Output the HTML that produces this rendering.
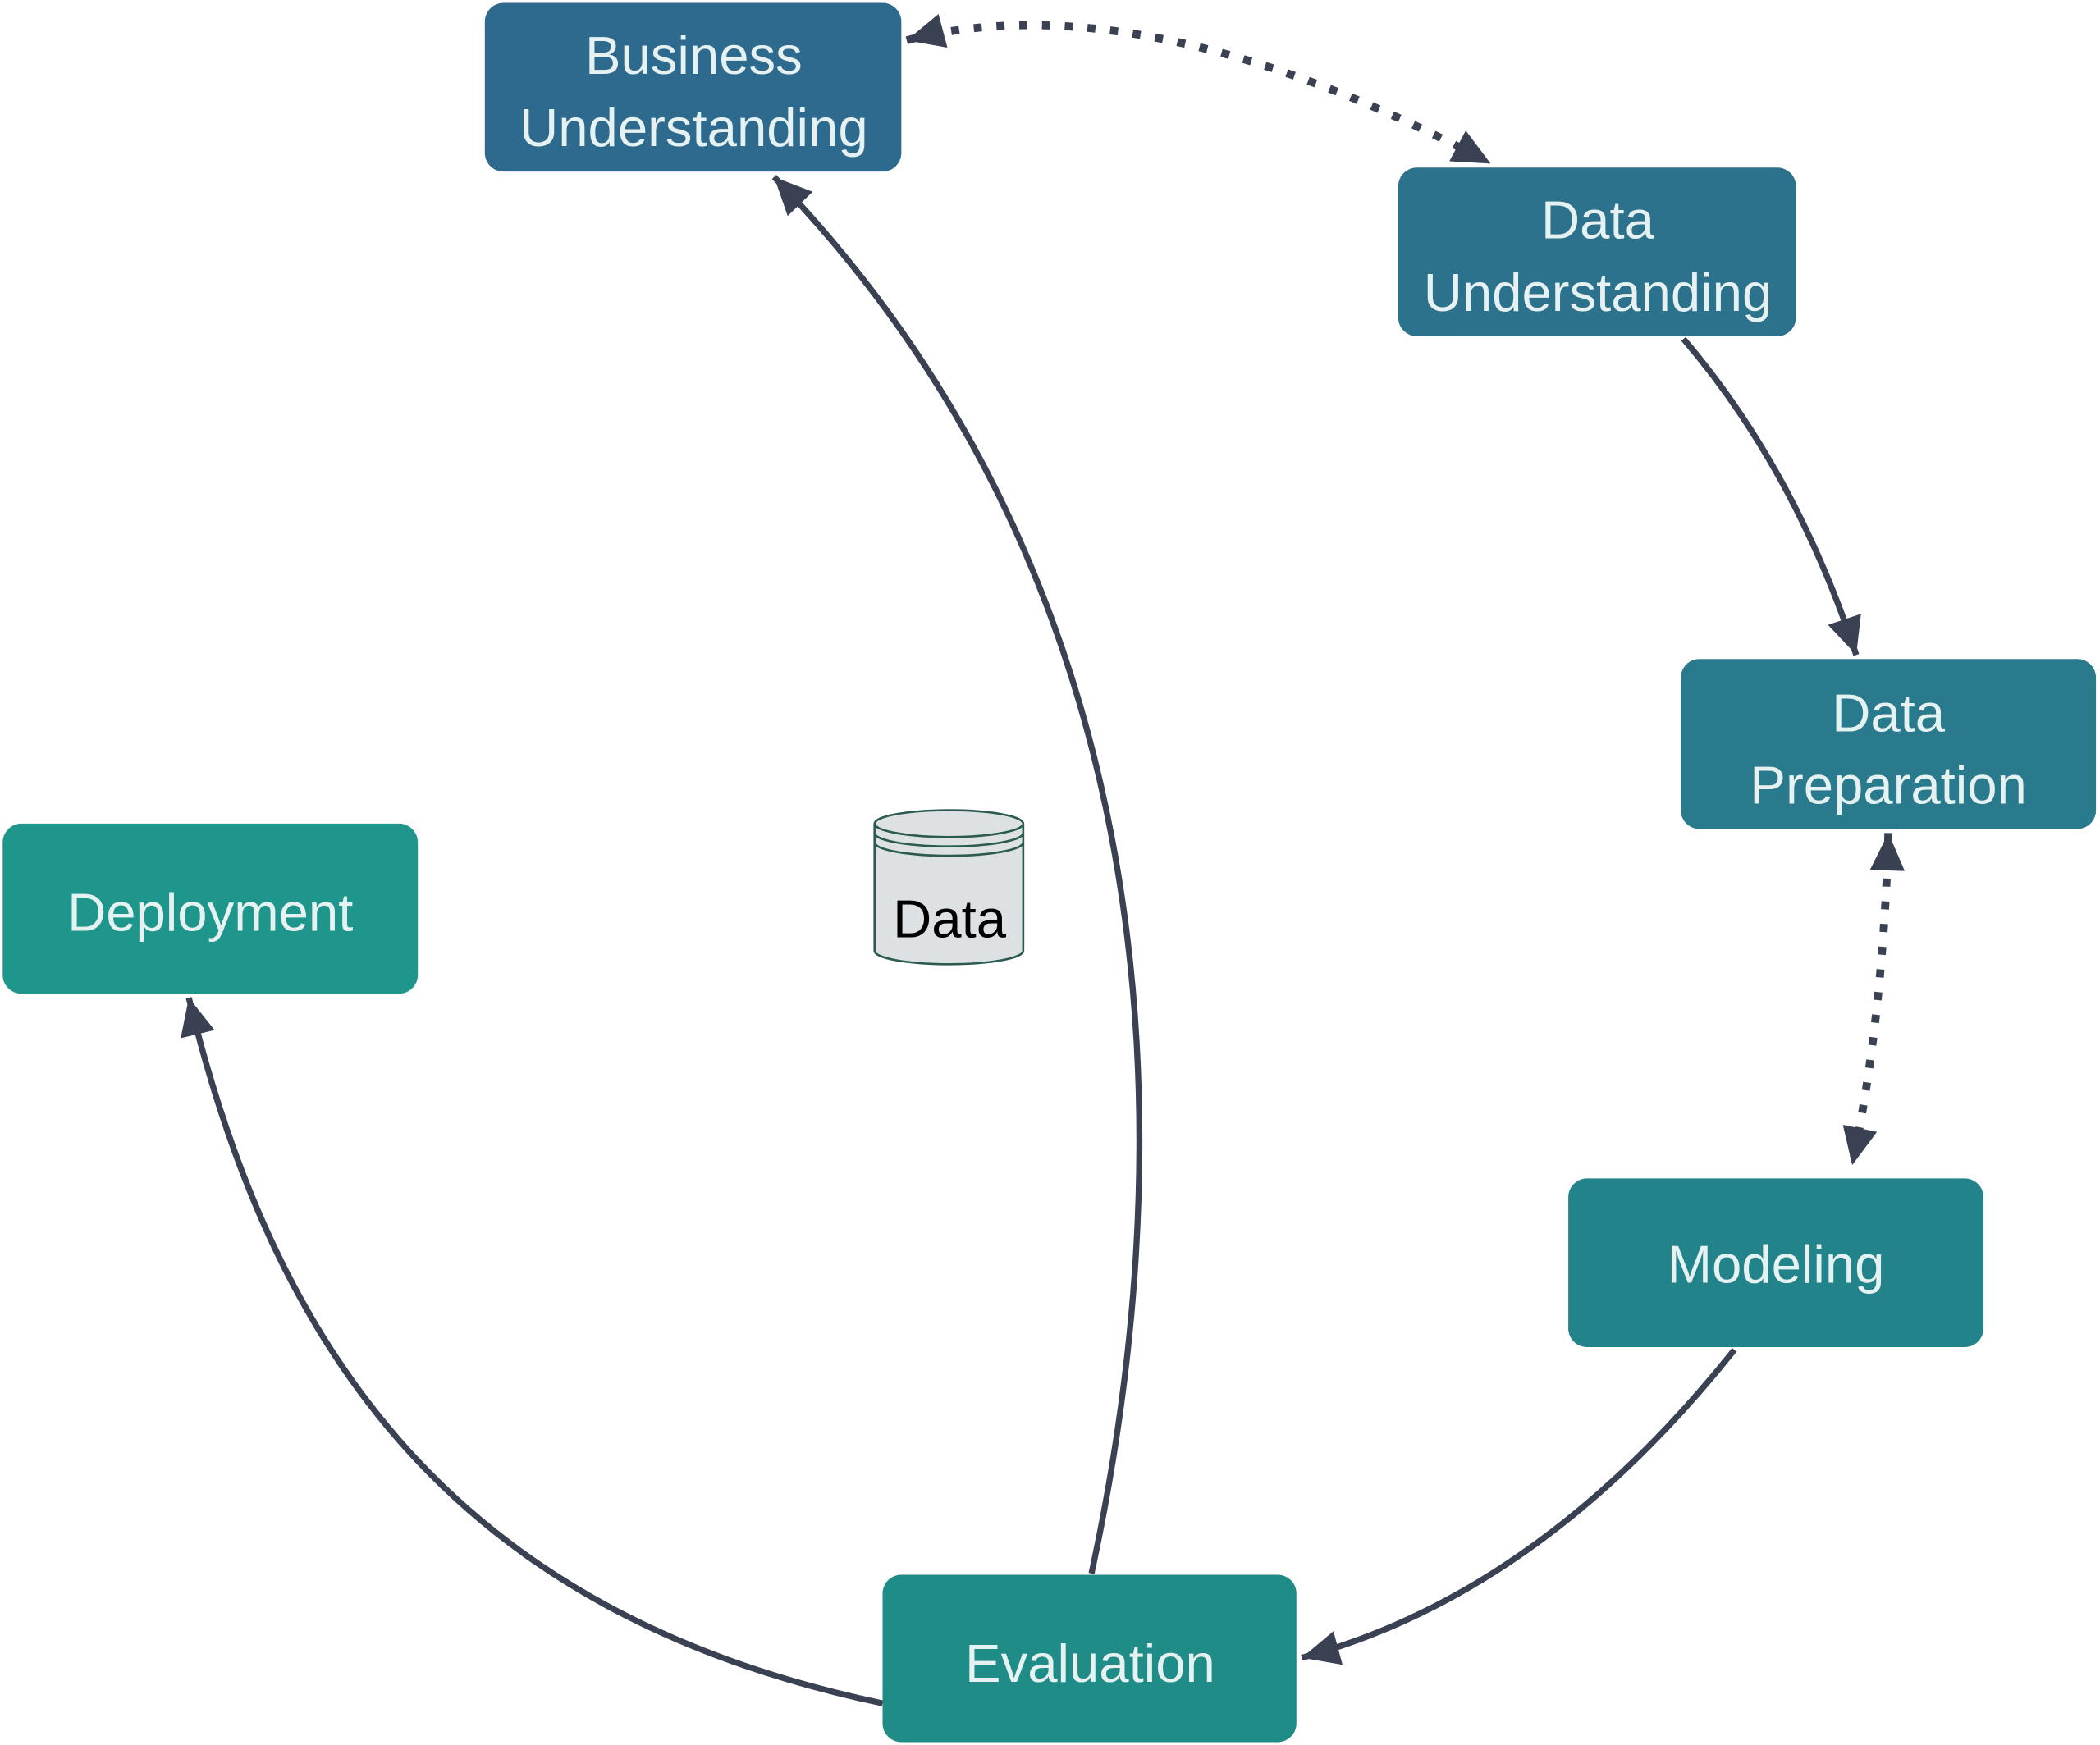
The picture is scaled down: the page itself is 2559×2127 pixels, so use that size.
<!DOCTYPE html>
<html><head><meta charset="utf-8"><style>
html,body{margin:0;padding:0;background:#fff;}
svg{display:block;}
text{font-family:"Liberation Sans",sans-serif;}
</style></head><body>
<svg width="2559" height="2127" viewBox="0 0 1568 1303" xmlns="http://www.w3.org/2000/svg">
<defs>
<marker id="a" markerUnits="userSpaceOnUse" markerWidth="32" markerHeight="32" viewBox="0 0 32 32" refX="30" refY="16" orient="auto-start-reverse">
<path d="M2 3 L30 16 L2 29 Z" fill="#3a4152"/>
</marker>
</defs>
<g fill="none" stroke="#3a4152" stroke-width="4.5">
<path d="M677 30 C 760 8, 900 8, 1113 122" stroke-dasharray="6 11" stroke-width="6" marker-start="url(#a)" marker-end="url(#a)"/>
<path d="M1257 253 Q 1340 350 1386 489" marker-end="url(#a)"/>
<path d="M1410 622 Q 1406 760 1383 870" stroke-dasharray="6 11" stroke-width="6" marker-start="url(#a)" marker-end="url(#a)"/>
<path d="M1295 1008 Q 1150 1190 972 1238" marker-end="url(#a)"/>
<path d="M815 1175 C 870 920, 905 470, 578 132" marker-end="url(#a)"/>
<path d="M659 1272 C 340 1205, 205 1010, 141 745" marker-end="url(#a)"/>
</g>
<g font-size="40" fill="#e6f2f1" text-anchor="middle">
<rect x="362" y="2" width="311" height="126" rx="14" fill="#2e6a8e"/>
<text x="518" y="55">Business</text><text x="518" y="109">Understanding</text>
<rect x="1044" y="125" width="297" height="126" rx="14" fill="#2c728d"/>
<text x="1193" y="178">Data</text><text x="1193" y="232">Understanding</text>
<rect x="1255" y="492" width="310" height="127" rx="14" fill="#287a8c"/>
<text x="1410" y="546">Data</text><text x="1410" y="600">Preparation</text>
<rect x="1171" y="880" width="310" height="126" rx="14" fill="#23838b"/>
<text x="1326" y="958">Modeling</text>
<rect x="659" y="1176" width="309" height="125" rx="14" fill="#208c88"/>
<text x="814" y="1256">Evaluation</text>
<rect x="2" y="615" width="310" height="127" rx="14" fill="#1f968b"/>
<text x="157" y="695">Deployment</text>
</g>
<g stroke="#2a5a50" stroke-width="1.6" fill="#dde1e4">
<path d="M653 615 L653 710 A55.5 10 0 0 0 764 710 L764 615"/>
<ellipse cx="708.5" cy="615" rx="55.5" ry="10"/>
<path d="M653 622 A55.5 10 0 0 0 764 622 M653 629 A55.5 10 0 0 0 764 629" fill="none"/>
</g>
<text x="709" y="700" font-size="40" fill="#000" text-anchor="middle">Data</text>
</svg>
</body></html>
